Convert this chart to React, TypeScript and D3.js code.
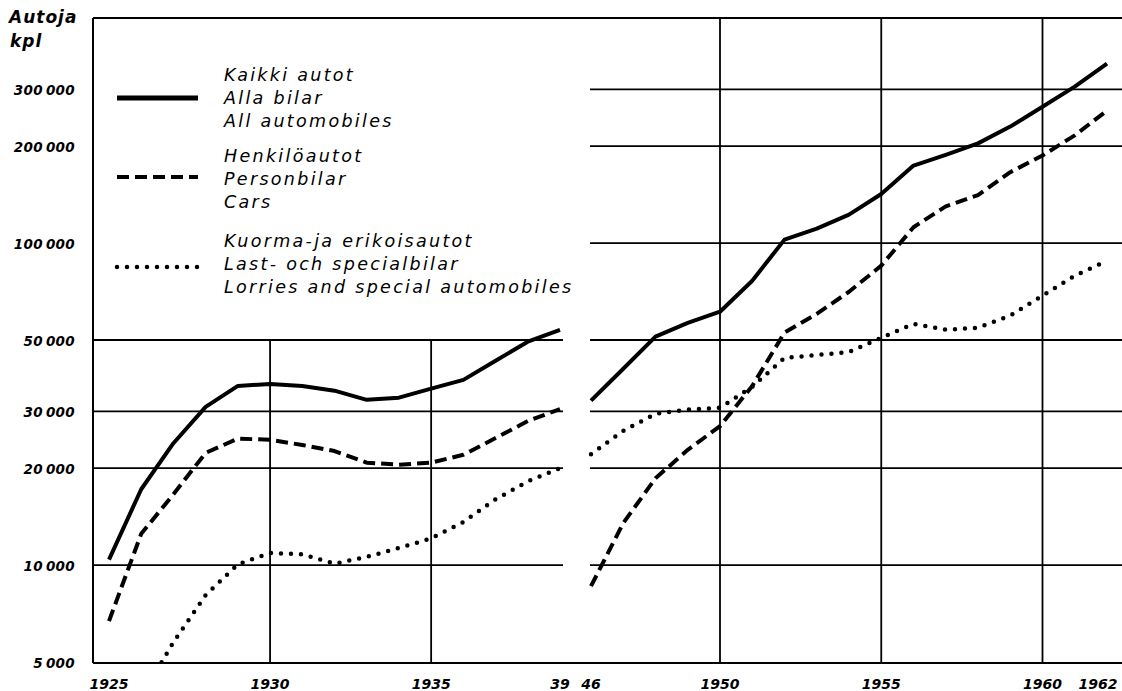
import React from "react";
import * as d3 from "d3";

// ---- data ----
const yearsA = [1925, 1926, 1927, 1928, 1929, 1930, 1931, 1932, 1933, 1934, 1935, 1936, 1937, 1938, 1939];
const allA = [10400, 17200, 23900, 31000, 36000, 36500, 36000, 34800, 32600, 33100, 35300, 37600, 43100, 49400, 53800];
const carsA = [6700, 12500, 16600, 22300, 24700, 24500, 23600, 22600, 20800, 20500, 20800, 22000, 24800, 28000, 30500];
const lorryYearsA = [1926, 1927, 1928, 1929, 1930, 1931, 1932, 1933, 1934, 1935, 1936, 1937, 1938, 1939];
const lorriesA = [3900, 5760, 8070, 10050, 10900, 10800, 10100, 10600, 11300, 12100, 13600, 16000, 18200, 20000];

const yearsB = [1946, 1947, 1948, 1949, 1950, 1951, 1952, 1953, 1954, 1955, 1956, 1957, 1958, 1959, 1960, 1961, 1962];
const allB = [32400, 40700, 51200, 56500, 61200, 76400, 102500, 110900, 122500, 142000, 174000, 188000, 204000, 230000, 265000, 306000, 361000];
const carsB = [8600, 13500, 18600, 22800, 27000, 36000, 52700, 60300, 70600, 85100, 112000, 130000, 141000, 166000, 187000, 216000, 258000];
const lorriesB = [22100, 26100, 29500, 30400, 30800, 35800, 44000, 44900, 45900, 50800, 56100, 53800, 54600, 59500, 68600, 79200, 88000];

const yTicks = [5000, 10000, 20000, 30000, 50000, 100000, 200000, 300000];
const leftGridValues = [10000, 20000, 30000, 50000];
const rightGridValues = [10000, 20000, 30000, 50000, 100000, 200000, 300000];
const leftGridYears = [1930, 1935];
const rightGridYears = [1950, 1955, 1960];
const leftTickYears = [1925, 1930, 1935, 1939];
const leftTickLabels = ["1925", "1930", "1935", "39"];
const rightTickYears = [1946, 1950, 1955, 1960, 1962];
const rightTickLabels = ["46", "1950", "1955", "1960", "1962"];

const legendItems = [
  { lines: ["Kaikki autot", "Alla bilar", "All automobiles"], style: "solid" },
  { lines: ["Henkilöautot", "Personbilar", "Cars"], style: "dashed" },
  { lines: ["Kuorma-ja erikoisautot", "Last- och specialbilar", "Lorries and special automobiles"], style: "dotted" },
];

const W = 1122;
const H = 691;
const LEFT = 93;
const TOP = 18;
const BOTTOM = 663;
const FONT = "'DejaVu Sans', sans-serif";

const styles: Record<string, any> = {
  solid: { strokeWidth: 4, strokeDasharray: undefined, strokeLinecap: "butt" },
  dashed: { strokeWidth: 4, strokeDasharray: "12 6", strokeLinecap: "butt" },
  dotted: { strokeWidth: 4.5, strokeDasharray: "0 10", strokeLinecap: "round" },
};

export default function App() {
  const xL = d3.scaleLinear().domain([1925, 1939]).range([109, 560]);
  const xR = d3.scaleLinear().domain([1946, 1962]).range([591, 1107]);
  const y = d3.scaleLog().domain([5000, 500000]).range([662, TOP]);

  const mkLine = (xs: d3.ScaleLinear<number, number>) =>
    d3
      .line<[number, number]>()
      .x((d) => xs(d[0]))
      .y((d) => y(d[1]))
      .curve(d3.curveLinear);

  const lineL = mkLine(xL);
  const lineR = mkLine(xR);
  const zip = (a: number[], b: number[]) => a.map((v, i) => [v, b[i]] as [number, number]);

  const series = [
    { d: lineL(zip(yearsA, allA)), s: "solid" },
    { d: lineL(zip(yearsA, carsA)), s: "dashed" },
    { d: lineL(zip(lorryYearsA, lorriesA)), s: "dotted" },
    { d: lineR(zip(yearsB, allB)), s: "solid" },
    { d: lineR(zip(yearsB, carsB)), s: "dashed" },
    { d: lineR(zip(yearsB, lorriesB)), s: "dotted" },
  ];

  const fmt = (v: number) => d3.format(",")(v).replace(/,/g, "\u2009");

  const legendLineY = [98, 177, 267];
  const legendBaselines = [
    [81, 104, 127],
    [162, 185, 208],
    [247, 270, 293],
  ];

  return (
    <div style={{ position: "absolute", left: 0, top: 0, background: "#fff" }}>
      <svg width={W} height={H} style={{ display: "block", background: "#fff" }}>
        <defs>
          <clipPath id="plotClip">
            <rect x={LEFT} y={TOP} width={W - LEFT} height={BOTTOM - TOP} />
          </clipPath>
        </defs>

        {/* axis title */}
        <text x={9} y={23} fontFamily={FONT} fontStyle="italic" fontWeight="bold" fontSize={17} letterSpacing={1} fill="#000">
          Autoja
        </text>
        <text x={10} y={47} fontFamily={FONT} fontStyle="italic" fontWeight="bold" fontSize={17} letterSpacing={1} fill="#000">
          kpl
        </text>

        {/* frame */}
        <line x1={LEFT} x2={W} y1={TOP} y2={TOP} stroke="#000" strokeWidth={2} />
        <line x1={LEFT} x2={LEFT} y1={TOP} y2={BOTTOM} stroke="#000" strokeWidth={2} />
        <line x1={LEFT} x2={W} y1={BOTTOM} y2={BOTTOM} stroke="#000" strokeWidth={2} />

        {/* horizontal grid */}
        {leftGridValues.map((v) => (
          <line key={"lg" + v} x1={LEFT} x2={xL(1939) + 3} y1={y(v)} y2={y(v)} stroke="#000" strokeWidth={1.8} />
        ))}
        {rightGridValues.map((v) => (
          <line key={"rg" + v} x1={xR(1946) - 1} x2={W} y1={y(v)} y2={y(v)} stroke="#000" strokeWidth={1.8} />
        ))}

        {/* vertical grid */}
        {leftGridYears.map((yr) => (
          <line key={"lv" + yr} x1={xL(yr)} x2={xL(yr)} y1={y(50000)} y2={BOTTOM} stroke="#000" strokeWidth={1.8} />
        ))}
        {rightGridYears.map((yr) => (
          <line key={"rv" + yr} x1={xR(yr)} x2={xR(yr)} y1={TOP} y2={BOTTOM} stroke="#000" strokeWidth={1.8} />
        ))}

        {/* y tick labels */}
        {yTicks.map((v) => (
          <text
            key={"yt" + v}
            x={75}
            y={y(v) + 6}
            textAnchor="end"
            fontFamily={FONT}
            fontStyle="italic"
            fontWeight="bold"
            fontSize={13.5}
            letterSpacing={0.3}
            fill="#000"
          >
            {fmt(v)}
          </text>
        ))}

        {/* x tick labels */}
        {leftTickYears.map((yr, i) => (
          <text
            key={"xl" + yr}
            x={xL(yr)}
            y={689}
            textAnchor="middle"
            fontFamily={FONT}
            fontStyle="italic"
            fontWeight="bold"
            fontSize={14}
            fill="#000"
          >
            {leftTickLabels[i]}
          </text>
        ))}
        {rightTickYears.map((yr, i) => (
          <text
            key={"xr" + yr}
            x={i === rightTickYears.length - 1 ? xR(yr) - 9 : xR(yr)}
            y={689}
            textAnchor="middle"
            fontFamily={FONT}
            fontStyle="italic"
            fontWeight="bold"
            fontSize={14}
            fill="#000"
          >
            {rightTickLabels[i]}
          </text>
        ))}

        {/* series */}
        <g clipPath="url(#plotClip)">
          {series.map((s, i) => (
            <path
              key={"s" + i}
              d={s.d || ""}
              fill="none"
              stroke="#000"
              strokeWidth={styles[s.s].strokeWidth}
              strokeDasharray={styles[s.s].strokeDasharray}
              strokeLinecap={styles[s.s].strokeLinecap}
              strokeLinejoin="round"
            />
          ))}
        </g>

        {/* legend */}
        {legendItems.map((item, i) => (
          <g key={"lgd" + i}>
            <line
              x1={117}
              x2={198}
              y1={legendLineY[i]}
              y2={legendLineY[i]}
              stroke="#000"
              strokeWidth={item.style === "solid" ? 5 : styles[item.style].strokeWidth}
              strokeDasharray={styles[item.style].strokeDasharray}
              strokeLinecap={styles[item.style].strokeLinecap}
            />
            {item.lines.map((t, j) => (
              <text
                key={j}
                x={224}
                y={legendBaselines[i][j]}
                fontFamily={FONT}
                fontStyle="italic"
                fontSize={17.5}
                letterSpacing={2.3}
                fill="#000"
              >
                {t}
              </text>
            ))}
          </g>
        ))}
      </svg>
    </div>
  );
}
